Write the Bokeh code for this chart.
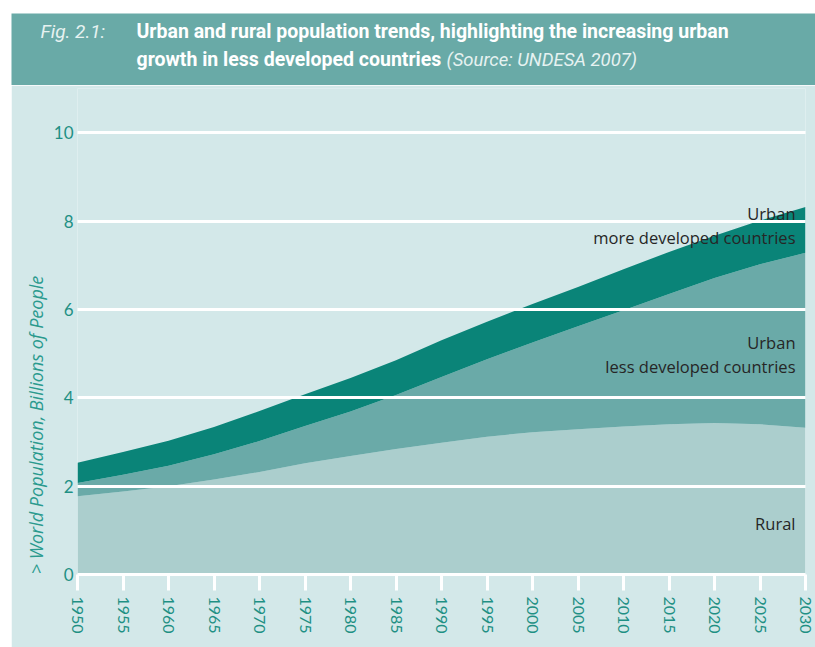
import numpy as np
from bokeh.plotting import figure
from bokeh.layouts import row, column
from bokeh.models import FixedTicker, Spacer
from bokeh.core.properties import value
from bokeh.embed import file_html
from bokeh.resources import INLINE

# ---------------- data ----------------
years = [1950, 1955, 1960, 1965, 1970, 1975, 1980, 1985, 1990,
         1995, 2000, 2005, 2010, 2015, 2020, 2025, 2030]
rural = [1.77, 1.88, 2.00, 2.15, 2.32, 2.52, 2.68, 2.84, 2.98,
         3.12, 3.22, 3.29, 3.35, 3.40, 3.43, 3.40, 3.32]
urban_less = [0.30, 0.38, 0.46, 0.57, 0.70, 0.84, 1.01, 1.22, 1.49,
              1.75, 2.03, 2.33, 2.63, 2.95, 3.28, 3.62, 3.96]
urban_more = [0.46, 0.51, 0.57, 0.62, 0.68, 0.72, 0.76, 0.79, 0.83,
              0.85, 0.87, 0.89, 0.93, 0.95, 0.96, 0.99, 1.04]
y_ticks = [0, 2, 4, 6, 8, 10]
x_ticks = years
series_labels = ["Urban\nmore developed countries",
                 "Urban\nless developed countries",
                 "Rural"]
y_axis_label = "> World Population, Billions of People"
fig_label = "Fig. 2.1:"
title_line1 = "Urban and rural population trends, highlighting the increasing urban"
title_line2 = "growth in less developed countries"
source_text = "(Source: UNDESA 2007)"

# ---------------- colours ----------------
C_BG = "#d3e8e9"
C_HEAD = "#69aaa7"
C_MORE = "#0a8478"
C_LESS = "#6aaaa8"
C_RURAL = "#abcecd"
C_TICK = "#1f9084"
C_LIGHT = "#e6f2f1"

r = np.array(rural)
m = r + np.array(urban_less)
t = m + np.array(urban_more)

# ---------------- geometry ----------------
PANEL_W = 804
HEAD_H = 72
MAIN_H = 562
BL, BR = 66, 10

# ---------------- header (its own frame covers the whole band) ----------------
head = figure(width=PANEL_W, height=HEAD_H,
              x_range=(0, PANEL_W), y_range=(0, HEAD_H),
              output_backend="svg", toolbar_location=None,
              min_border_left=0, min_border_right=0,
              min_border_top=0, min_border_bottom=0)
head.background_fill_color = C_HEAD
head.border_fill_color = C_HEAD
head.outline_line_color = None
head.axis.visible = False
head.grid.visible = False

head.text(x=[29], y=[54], text=[fig_label], text_font=value("Roboto"),
          text_font_style="italic", text_font_size="19px",
          text_color=C_LIGHT, text_baseline="middle", text_align="left")
head.text(x=[125, 125], y=[54, 26], text=[title_line1, title_line2],
          text_font=value("Roboto"), text_font_style="bold",
          text_font_size="19.5px", text_color="white",
          text_baseline="middle", text_align="left")
head.text(x=[435], y=[26], text=[source_text], text_font=value("Roboto"),
          text_font_style="italic", text_font_size="18.5px",
          text_color=C_LIGHT, text_baseline="middle", text_align="left")

# ---------------- main chart ----------------
p = figure(width=PANEL_W, height=MAIN_H, x_range=(1950, 2030),
           y_range=(0, 11), output_backend="svg", toolbar_location=None,
           min_border_left=BL, min_border_right=BR, min_border_top=3,
           min_border_bottom=73)
p.background_fill_color = C_BG
p.border_fill_color = C_BG
p.outline_line_color = None

p.varea(x=years, y1=0, y2=r, fill_color=C_RURAL)
p.varea(x=years, y1=r, y2=m, fill_color=C_LESS)
p.varea(x=years, y1=m, y2=t, fill_color=C_MORE)

p.xgrid.visible = False
p.ygrid.ticker = FixedTicker(ticks=y_ticks)
p.ygrid.grid_line_color = "white"
p.ygrid.grid_line_width = 3
p.ygrid.level = "overlay"

xa = p.xaxis[0]
xa.ticker = FixedTicker(ticks=x_ticks)
xa.axis_line_color = "white"
xa.axis_line_width = 3
xa.major_tick_line_color = "white"
xa.major_tick_line_width = 3
xa.major_tick_out = 16
xa.major_tick_in = 0
xa.minor_tick_line_color = None
xa.major_label_orientation = "vertical"
xa.major_label_text_font = "Lato"
xa.major_label_text_font_size = "16px"
xa.major_label_text_color = C_TICK
xa.major_label_standoff = 6
xa.level = "overlay"

ya = p.yaxis[0]
ya.ticker = FixedTicker(ticks=y_ticks)
ya.axis_line_color = None
ya.major_tick_line_color = None
ya.minor_tick_line_color = None
ya.major_label_text_font = "Lato"
ya.major_label_text_font_size = "17px"
ya.major_label_text_color = C_TICK
ya.major_label_standoff = -2
# the label sits low on the axis in the reference: trailing no-break
# spaces move the visible text towards the bottom of the centred label
ya.axis_label = y_axis_label + "\u00a0" * 40
ya.axis_label_text_font = "Open Sans"
ya.axis_label_text_font_style = "italic"
ya.axis_label_text_font_size = "18px"
ya.axis_label_text_color = "#2a9a8e"
ya.axis_label_standoff = 3

label_y = [8.17, 7.62, 5.25, 4.71, 1.15]
label_txt = []
for s in series_labels:
    label_txt.extend(s.split("\n"))
p.text(x=[2030] * len(label_txt), y=label_y, text=label_txt,
       x_offset=-10, text_font=value("Open Sans"), text_font_size="16.5px",
       text_color="#262626", text_align="right", text_baseline="middle")

layout = column(
    Spacer(width=815, height=13),
    row(Spacer(width=11, height=HEAD_H), head, spacing=0),
    row(Spacer(width=11, height=MAIN_H), p, spacing=0),
    spacing=0)

open("out.html", "w").write(file_html(layout, INLINE))
